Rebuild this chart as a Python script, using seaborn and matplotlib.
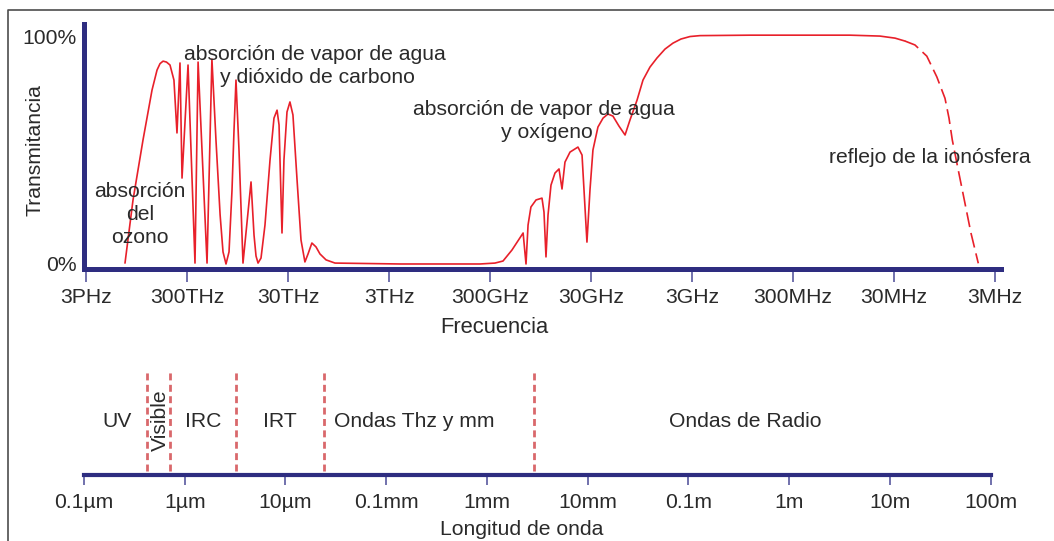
import numpy as np
import pandas as pd
import matplotlib
matplotlib.use("Agg")
import matplotlib.pyplot as plt
from matplotlib.lines import Line2D
from matplotlib.ticker import NullLocator
import seaborn as sns

# ---------------- data ----------------
# atmospheric transmittance (%) vs frequency (Hz), solid part
freq_solid_hz = [
    1.233e15, 1.027e15, 8.18e14, 6.66e14, 5.94e14, 5.55e14, 5.18e14, 4.79e14,
    4.42e14, 4.04e14,
    3.77e14, 3.52e14, 3.36e14, 2.93e14, 2.50e14, 2.33e14, 1.90e14, 1.70e14,
    1.55e14, 1.41e14, 1.32e14, 1.233e14, 1.151e14, 1.075e14, 1.027e14, 9.82e13,
    9.17e13, 8.37e13, 6.97e13, 6.51e13, 6.22e13, 5.94e13, 5.55e13, 5.07e13,
    4.52e13, 4.13e13, 3.85e13, 3.68e13, 3.44e13, 3.29e13, 3.07e13, 2.87e13,
    2.68e13, 2.44e13, 2.23e13, 2.04e13, 1.90e13, 1.74e13, 1.585e13, 1.447e13,
    1.26e13, 1.027e13, 2.33e12, 3.77e11, 2.68e11, 2.23e11, 1.82e11, 1.41e11,
    1.32e11, 1.26e11, 1.18e11, 1.05e11, 9.17e10, 8.76e10, 8.37e10, 7.99e10,
    7.47e10, 6.82e10, 6.22e10, 5.81e10, 5.43e10, 4.84e10, 4.04e10, 3.68e10,
    3.29e10, 3.07e10, 2.87e10, 2.56e10, 2.28e10, 2.04e10, 1.82e10, 1.585e10,
    1.38e10, 1.233e10, 1.05e10, 9.17e9, 7.82e9, 6.66e9, 5.55e9, 4.63e9,
    3.86e9, 3.14e9, 2.50e9, 8.0e8, 8.18e7, 4.13e7, 2.93e7, 2.33e7,
]
trans_solid = [
    0.4, 28.1, 54.4, 76.3, 85.1, 87.9, 89.0, 88.6,
    87.3, 80.7,
    57.5, 88.2, 37.7, 87.3, 0.4, 88.6, 0.4, 89.9,
    54.4, 21.5, 5.3, 0.0, 5.3, 32.5, 58.8, 80.7,
    50.0, 0.4, 36.0, 12.7, 3.5, 0.4, 2.6, 17.1,
    45.6, 64.0, 67.5, 61.0, 13.6, 45.6, 66.7, 71.1,
    65.4, 36.8, 10.5, 0.9, 4.4, 9.2, 7.5, 4.4,
    1.8, 0.4, 0.0, 0.0, 0.4, 1.3, 6.1, 13.6,
    0.0, 17.1, 25.0, 28.1, 28.9, 22.8, 3.1, 21.5,
    34.6, 39.9, 41.7, 32.9, 44.7, 49.1, 51.3, 47.8,
    9.6, 32.5, 50.0, 60.1, 64.0, 65.8, 64.9, 60.5,
    56.6, 63.2, 71.9, 80.7, 86.4, 90.4, 94.3, 96.9,
    98.7, 99.8, 100.2, 100.4, 100.4, 100.0, 99.1, 97.8,
]
# ionosphere reflection part (dashed)
freq_dash_hz = [2.33e7, 1.86e7, 1.42e7, 1.13e7, 9.38e6, 8.56e6, 7.94e6,
                6.93e6, 6.04e6, 5.19e6, 4.39e6]
trans_dash = [97.8, 96.1, 91.2, 82.1, 72.7, 64.0, 54.4, 41.2, 28.1, 13.6, 0.3]

freq_ticks_hz = [3e15, 3e14, 3e13, 3e12, 3e11, 3e10, 3e9, 3e8, 3e7, 3e6]
freq_tick_labels = ["3PHz", "300THz", "30THz", "3THz", "300GHz", "30GHz",
                    "3GHz", "300MHz", "30MHz", "3MHz"]
wl_ticks_m = [1e-7, 1e-6, 1e-5, 1e-4, 1e-3, 1e-2, 1e-1, 1e0, 1e1, 1e2]
wl_tick_labels = ["0.1µm", "1µm", "10µm", "0.1mm", "1mm", "10mm", "0.1m",
                  "1m", "10m", "100m"]
y_ticks = [0, 100]
y_tick_labels = ["0%", "100%"]

band_edges_m = [4.2e-7, 7.1e-7, 3.2e-6, 2.4e-5, 2.9e-3]
band_names = ["UV", "Visible", "IRC", "IRT", "Ondas Thz y mm", "Ondas de Radio"]
band_label_x_m = [2.15e-7, 5.75e-7, 1.54e-6, 8.75e-6, 1.9e-4, 0.364]

# ---------------- style ----------------
sns.set_theme(style="white")
plt.rcParams["font.family"] = ["Liberation Sans", "DejaVu Sans"]

RED = "#e8202a"
NAVY = "#2e2d80"
TICKC = "#4a4a96"
DASHRED = "#d9686b"
TXT = "#2a2a2a"
FS = 15.2

W, H = 1054, 541
fig = plt.figure(figsize=(W / 100, H / 100), dpi=100)
fig.patch.set_facecolor("white")


def fx(px):
    return px / W


def fy(py):
    return 1 - py / H


# ---------------- top axes: transmittance ----------------
ax = fig.add_axes([fx(84), fy(269), fx(1001) - fx(84), fy(24) - fy(269)])
ax.set_xscale("log")
df_solid = pd.DataFrame({"freq": freq_solid_hz, "T": trans_solid})
df_dash = pd.DataFrame({"freq": freq_dash_hz, "T": trans_dash})
sns.lineplot(data=df_solid, x="freq", y="T", ax=ax, color=RED, lw=1.2,
             estimator=None, sort=False)
sns.lineplot(data=df_dash, x="freq", y="T", ax=ax, color=RED, lw=1.2,
             estimator=None, sort=False)
ax.lines[-1].set_dashes((9, 3.6))
for ln in ax.lines:
    ln.set_solid_joinstyle("round")
ax.set_xlim(3.14e15, 2.616e6)
ax.set_ylim(-2.2, 105.3)
ax.set_xlabel("")
ax.set_ylabel("")
ax.set_facecolor("none")

for side in ["top", "right"]:
    ax.spines[side].set_visible(False)
for side in ["left", "bottom"]:
    ax.spines[side].set_color(NAVY)
    ax.spines[side].set_linewidth(3.6)
    ax.spines[side].set_capstyle("projecting")

ax.set_xticks(freq_ticks_hz)
ax.set_xticklabels(freq_tick_labels)
ax.xaxis.set_minor_locator(NullLocator())
ax.tick_params(axis="x", which="major", bottom=True, length=9.5, width=1.1,
               color=TICKC, pad=4.5, labelsize=FS, labelcolor=TXT)
ax.set_yticks(y_ticks)
ax.set_yticklabels(y_tick_labels)
ax.yaxis.set_minor_locator(NullLocator())
ax.tick_params(axis="y", which="major", left=True, length=0, pad=5.5,
               labelsize=FS, labelcolor=TXT)
ax.grid(False)

# annotations (each line placed at its baseline)
notes = [
    ("absorción de vapor de agua", 315, 60),
    ("y dióxido de carbono", 317, 83),
    ("absorción de vapor de agua", 544, 115),
    ("y oxígeno", 547, 138),
    ("reflejo de la ionósfera", 930, 163),
    ("absorción", 140, 197),
    ("del", 140, 220),
    ("ozono", 140, 243),
]
for txt, px, py in notes:
    fig.text(fx(px), fy(py), txt, ha="center", va="baseline", fontsize=FS,
             color=TXT)

fig.text(fx(35), fy(150), "Transmitancia", rotation=90, ha="center",
         va="center", fontsize=FS, color=TXT)
fig.text(fx(494), fy(333), "Frecuencia", ha="center", va="baseline",
         fontsize=15.8, color=TXT)

# ---------------- bottom axes: wavelength bands ----------------
ax2 = fig.add_axes([fx(84), fy(475), fx(990.7) - fx(84), fy(360) - fy(475)])
ax2.set_xscale("log")
ax2.set_xlim(1e-7, 1e2)
ax2.set_ylim(0, 1)
ax2.set_facecolor("none")
ax2.vlines(band_edges_m, 0.035, 0.896, colors=DASHRED, lw=2.0,
           linestyles=[(0, (2.5, 1.6))])
for name, xm in zip(band_names, band_label_x_m):
    if name == "Visible":
        ax2.text(xm, 0.478, name, rotation=90, ha="center", va="center",
                 fontsize=FS, color=TXT)
    else:
        ax2.text(xm, (475 - 427) / 115, name, ha="center", va="baseline",
                 fontsize=FS, color=TXT)

for side in ["top", "right", "left"]:
    ax2.spines[side].set_visible(False)
ax2.spines["bottom"].set_color(NAVY)
ax2.spines["bottom"].set_linewidth(3.0)
ax2.set_xticks(wl_ticks_m)
ax2.set_xticklabels(wl_tick_labels)
ax2.xaxis.set_minor_locator(NullLocator())
ax2.set_yticks([])
ax2.tick_params(axis="x", which="major", bottom=True, length=7.5, width=1.1,
                color=TICKC, pad=5.5, labelsize=FS, labelcolor=TXT)
ax2.grid(False)

fig.text(fx(522), fy(535), "Longitud de onda", ha="center", va="baseline",
         fontsize=FS, color=TXT)

# outer frame (left and top edges visible)
fig.add_artist(Line2D([fx(8), fx(8), 1.0], [0.0, fy(10), fy(10)],
                      transform=fig.transFigure, color="#4d4d4d", lw=1.2))

fig.savefig("out.png", dpi=100, facecolor="white")
